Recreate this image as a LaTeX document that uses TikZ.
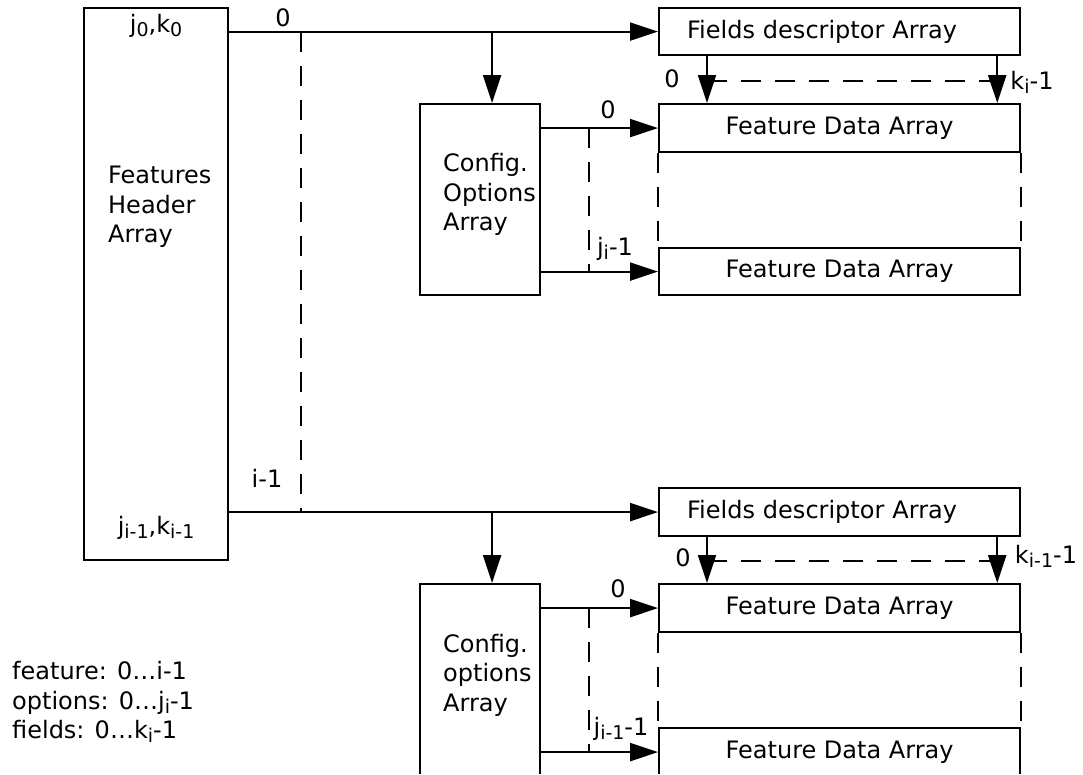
\documentclass[tikz,border=0pt]{standalone}
\usepackage{fontspec}
\setmainfont{DejaVu Sans}
\usetikzlibrary{positioning, arrows.meta}
\tikzstyle{arrow} = [line width=2.2pt, -{Triangle[length=28pt, width=18pt]}]
\newcommand{\sbs}[1]{\raisebox{-4pt}{\fontsize{19}{19}\selectfont #1}}

\begin{document}
\begin{tikzpicture}[x=1pt, y=-1pt, font=\fontsize{24}{29.5}\selectfont,
    box/.style={rectangle, draw, line width=2.2pt, inner sep=0pt, anchor=north west},
    lbl/.style={inner sep=0pt, anchor=base},
    dashline/.style={line width=2.2pt, dash pattern=on 20pt off 14pt}]
    \useasboundingbox (0,0) rectangle (1083,774);
    \clip (0,0) rectangle (1083,773);

    % Features header array
    \node[box, minimum width=144, minimum height=552] (fha) at (83,7) {};
    \node[inner sep=0pt, align=left, anchor=west] (fhatxt) at ([xshift=25pt, yshift=77pt]fha.west) {Features\\Header\\Array};
    \node[lbl] (jk0) at ([yshift=-25pt]fha.north) {j\sbs{0},k\sbs{0}};
    \node[lbl] (jki) at ([yshift=27pt]fha.south) {j\sbs{i-1},k\sbs{i-1}};

    % Top group
    \node[box, minimum width=361, minimum height=47, text width=305pt, align=left] (fd1) at (658,7) {Fields descriptor Array};
    \node[box, minimum width=361, minimum height=48] (fda1a) at (658,103) {Feature Data Array};
    \node[box, minimum width=361, minimum height=47] (fda1b) at (658,247) {Feature Data Array};
    \node[box, minimum width=120, minimum height=191] (cfg1) at (419,103) {};
    \node[inner sep=0pt, align=left, anchor=west] (cfg1txt) at ([xshift=24pt, yshift=5pt]cfg1.west) {Config.\\Options\\Array};

    % Bottom group
    \node[box, minimum width=361, minimum height=48, text width=305pt, align=left] (fd2) at (658,487) {Fields descriptor Array};
    \node[box, minimum width=361, minimum height=48] (fda2a) at (658,583) {Feature Data Array};
    \node[box, minimum width=361, minimum height=48] (fda2b) at (658,727) {Feature Data Array};
    \node[box, minimum width=120, minimum height=192] (cfg2) at (419,583) {};
    \node[inner sep=0pt, align=left, anchor=west] (cfg2txt) at ([xshift=24pt, yshift=5pt]cfg2.west) {Config.\\options\\Array};

    % Dashed index lines
    \draw[dashline] ([xshift=72pt]fha.east |- fd1) -- ([xshift=72pt]fha.east |- fd2);
    \draw[dashline] ([xshift=48pt]cfg1.east |- fda1a) -- ([xshift=48pt]cfg1.east |- fda1b);
    \draw[dashline] ([xshift=48pt]cfg2.east |- fda2a) -- ([xshift=48pt]cfg2.east |- fda2b);
    \draw[dashline] (fda1a.south west) -- (fda1b.north west);
    \draw[dashline] (fda1a.south east) -- (fda1b.north east);
    \draw[dashline] (fda2a.south west) -- (fda2b.north west);
    \draw[dashline] (fda2a.south east) -- (fda2b.north east);
    \draw[dashline] ([xshift=49pt, yshift=-24.5pt]fd1.south west) -- ([xshift=-24pt, yshift=-24.5pt]fd1.south east);
    \draw[dashline] ([xshift=49pt, yshift=-24pt]fd2.south west) -- ([xshift=-24pt, yshift=-24pt]fd2.south east);

    % Arrows - top group
    \draw[arrow] (fha.east |- fd1) -- (fd1.west);
    \draw[arrow] ([xshift=12pt]cfg1.north |- fd1) -- ([xshift=12pt]cfg1.north);
    \draw[arrow] (cfg1.east |- fda1a) -- (fda1a.west);
    \draw[arrow] (cfg1.east |- fda1b) -- (fda1b.west);
    \draw[arrow] ([xshift=49pt]fd1.south west) -- ([xshift=49pt]fda1a.north west);
    \draw[arrow] ([xshift=-24pt]fd1.south east) -- ([xshift=-24pt]fda1a.north east);

    % Arrows - bottom group
    \draw[arrow] (fha.east |- fd2) -- (fd2.west);
    \draw[arrow] ([xshift=12pt]cfg2.north |- fd2) -- ([xshift=12pt]cfg2.north);
    \draw[arrow] (cfg2.east |- fda2a) -- (fda2a.west);
    \draw[arrow] (cfg2.east |- fda2b) -- (fda2b.west);
    \draw[arrow] ([xshift=49pt]fd2.south west) -- ([xshift=49pt]fda2a.north west);
    \draw[arrow] ([xshift=-24pt]fd2.south east) -- ([xshift=-24pt]fda2a.north east);

    % Index labels
    \node[lbl] (f0) at (283,26) {0};
    \node[lbl] (fi) at (267,487) {i-1};
    \node[lbl] (o10) at (608,118) {0};
    \node[lbl] (o1j) at (615,255) {j\sbs{i}-1};
    \node[lbl] (d10) at (672,87) {0};
    \node[lbl] (d1k) at (1032,89) {k\sbs{i}-1};
    \node[lbl] (o20) at (618,597) {0};
    \node[lbl] (o2j) at (621,735) {j\sbs{i-1}-1};
    \node[lbl] (d20) at (683,566) {0};
    \node[lbl] (d2k) at (1046,563) {k\sbs{i-1}-1};

    % Legend
    \node[inner sep=0pt, align=left, anchor=west] (legend) at (12,702) {feature: 0…i-1\\options: 0…j\sbs{i}-1\\fields: 0…k\sbs{i}-1};

\end{tikzpicture}
\end{document}
